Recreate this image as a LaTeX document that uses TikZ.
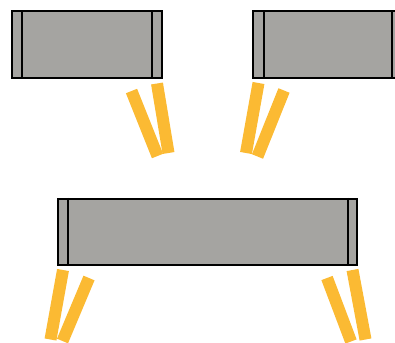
\documentclass[tikz,border=0pt]{standalone}
\definecolor{boxgray}{HTML}{A5A4A1}
\definecolor{baryellow}{HTML}{FBBA33}
\tikzset{
  unit/.style={draw=black, line width=2pt, fill=boxgray, rectangle, inner sep=0pt, minimum height=66.5pt},
  sideline/.style={draw=black, line width=2pt},
  bar/.style={draw=baryellow, line width=12pt, line cap=butt}
}
\begin{document}
\begin{tikzpicture}[x=1pt,y=-1pt]
\useasboundingbox (0,0) rectangle (395,342);
\begin{scope}
\clip (0,0) rectangle (395,342);
% boxes
\node[unit, minimum width=150pt] (tl) at (87,44.75) {};
\node[unit, minimum width=150pt] (tr) at (328,44.75) {};
\node[unit, minimum width=298.7pt] (bt) at (207.35,232) {};
\draw[sideline] ([xshift=11pt]tl.north west) -- ([xshift=11pt]tl.south west);
\draw[sideline] ([xshift=-11pt]tl.north east) -- ([xshift=-11pt]tl.south east);
\draw[sideline] ([xshift=12pt]tr.north west) -- ([xshift=12pt]tr.south west);
\draw[sideline] ([xshift=-12pt]tr.north east) -- ([xshift=-12pt]tr.south east);
\draw[sideline] ([xshift=11pt]bt.north west) -- ([xshift=11pt]bt.south west);
\draw[sideline] ([xshift=-10pt]bt.north east) -- ([xshift=-10pt]bt.south east);
% yellow bars
\coordinate (a1) at (131.5,91);  \coordinate (a2) at (157.5,156);
\coordinate (b1) at (157,83.5);  \coordinate (b2) at (168.5,153);
\coordinate (c1) at (258.5,83);  \coordinate (c2) at (246,153);
\coordinate (d1) at (284,90.5);  \coordinate (d2) at (257.5,156.5);
\coordinate (e1) at (63,270);    \coordinate (e2) at (50.5,339.5);
\coordinate (f1) at (89,278);    \coordinate (f2) at (62.5,341);
\coordinate (g1) at (327,278);   \coordinate (g2) at (351,341.5);
\coordinate (h1) at (352.5,270); \coordinate (h2) at (365.5,339.5);
\draw[bar] (a1) -- (a2);
\draw[bar] (b1) -- (b2);
\draw[bar] (c1) -- (c2);
\draw[bar] (d1) -- (d2);
\draw[bar] (e1) -- (e2);
\draw[bar] (f1) -- (f2);
\draw[bar] (g1) -- (g2);
\draw[bar] (h1) -- (h2);
\end{scope}
\end{tikzpicture}
\end{document}
